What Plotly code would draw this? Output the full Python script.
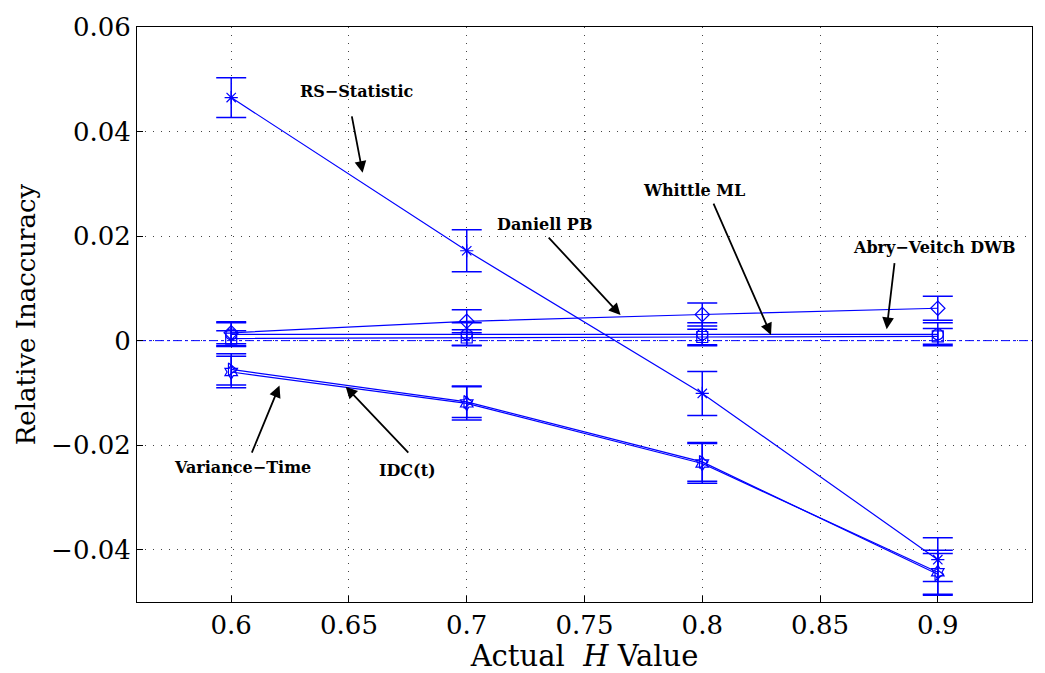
import plotly.graph_objects as go

H = [0.6, 0.7, 0.8, 0.9]

rs_vals = [0.0465, 0.0172, -0.0101, -0.0419]
rs_err = [0.0038, 0.0040, 0.0042, 0.0042]

daniell_vals = [0.0015, 0.0037, 0.0050, 0.0062]
daniell_err = [0.0021, 0.0022, 0.0022, 0.0023]

whittle_vals = [0.0012, 0.0012, 0.0012, 0.0012]
whittle_err = [0.0022, 0.0022, 0.0022, 0.0022]

abry_vals = [0.0004, 0.0006, 0.0007, 0.0008]
abry_err = [0.0015, 0.0015, 0.0015, 0.0015]

vt_vals = [-0.0055, -0.0117, -0.0232, -0.0447]
vt_err = [0.0030, 0.0030, 0.0037, 0.0040]

idc_vals = [-0.0060, -0.0120, -0.0235, -0.0443]
idc_err = [0.0030, 0.0032, 0.0038, 0.0042]

zero_line = [0.0, 0.0]
zero_x = [0.56, 0.94]

BLUE = "#0000ff"
SERIF = "DejaVu Serif"

fig = go.Figure()

def add(vals, err, symbol, dash="solid"):
    fig.add_trace(go.Scatter(
        x=H, y=vals, mode="lines+markers",
        line=dict(color=BLUE, width=1.2, dash=dash),
        marker=dict(symbol=symbol, size=11, color=BLUE, line=dict(color=BLUE, width=1.2)),
        error_y=dict(type="data", array=err, visible=True, color=BLUE, thickness=1.5, width=15),
        showlegend=False,
    ))

fig.add_trace(go.Scatter(x=zero_x, y=zero_line, mode="lines",
                         line=dict(color=BLUE, width=1, dash="dashdot"), showlegend=False))
add(rs_vals, rs_err, "asterisk-open")
add(daniell_vals, daniell_err, "diamond-open")
add(whittle_vals, whittle_err, "circle-open")
add(abry_vals, abry_err, "square-open")
add(vt_vals, vt_err, "triangle-right-open")
add(idc_vals, idc_err, "hexagram-open")

labels = ["RS\u2212Statistic", "Daniell PB", "Whittle ML", "Abry\u2212Veitch DWB", "Variance\u2212Time", "IDC(t)"]
label_x = [0.6533, 0.7330, 0.7964, 0.8987, 0.6047, 0.6750]
label_y = [0.0477, 0.0222, 0.0288, 0.0178, -0.0243, -0.0249]
tail_x = [0.6511, 0.7342, 0.8045, 0.8817, 0.6085, 0.6758]
tail_y = [0.0432, 0.0200, 0.0265, 0.0151, -0.0217, -0.0217]
head_x = [0.6558, 0.7653, 0.8292, 0.8783, 0.6205, 0.6486]
head_y = [0.0321, 0.0049, 0.0011, 0.0022, -0.0086, -0.0088]

for i in range(len(labels)):
    fig.add_annotation(x=head_x[i], y=head_y[i], ax=tail_x[i], ay=tail_y[i],
                       xref="x", yref="y", axref="x", ayref="y", text="",
                       showarrow=True, arrowhead=2, arrowsize=1.3, arrowwidth=1.8,
                       arrowcolor="black")
    fig.add_annotation(x=label_x[i], y=label_y[i], xref="x", yref="y",
                       text="<b>" + labels[i] + "</b>", showarrow=False,
                       font=dict(family=SERIF, size=16, color="black"))

grid = dict(showgrid=True, gridcolor="#444444", griddash="1px,7px", gridwidth=1,
            showline=True, linecolor="black", linewidth=1, mirror=True,
            ticks="inside", ticklen=6, tickcolor="black", zeroline=False,
            tickfont=dict(family=SERIF, size=26, color="black"))

fig.update_xaxes(range=[0.56, 0.94], tickvals=[0.6, 0.65, 0.7, 0.75, 0.8, 0.85, 0.9],
                 ticktext=["0.6", "0.65", "0.7", "0.75", "0.8", "0.85", "0.9"],
                 title=dict(text="Actual  <i>H</i> Value", font=dict(family=SERIF, size=29, color="black"), standoff=0),
                 **grid)
fig.update_yaxes(range=[-0.05, 0.06], tickvals=[-0.04, -0.02, 0, 0.02, 0.04, 0.06],
                 ticktext=["\u22120.04", "\u22120.02", "0", "0.02", "0.04", "0.06"],
                 title=dict(text="Relative Inaccuracy", font=dict(family=SERIF, size=26, color="black"), standoff=8),
                 **grid)

fig.update_layout(width=1045, height=673, margin=dict(l=137, r=12, t=18, b=67),
                  plot_bgcolor="white", paper_bgcolor="white")

fig.write_html("out.html")
